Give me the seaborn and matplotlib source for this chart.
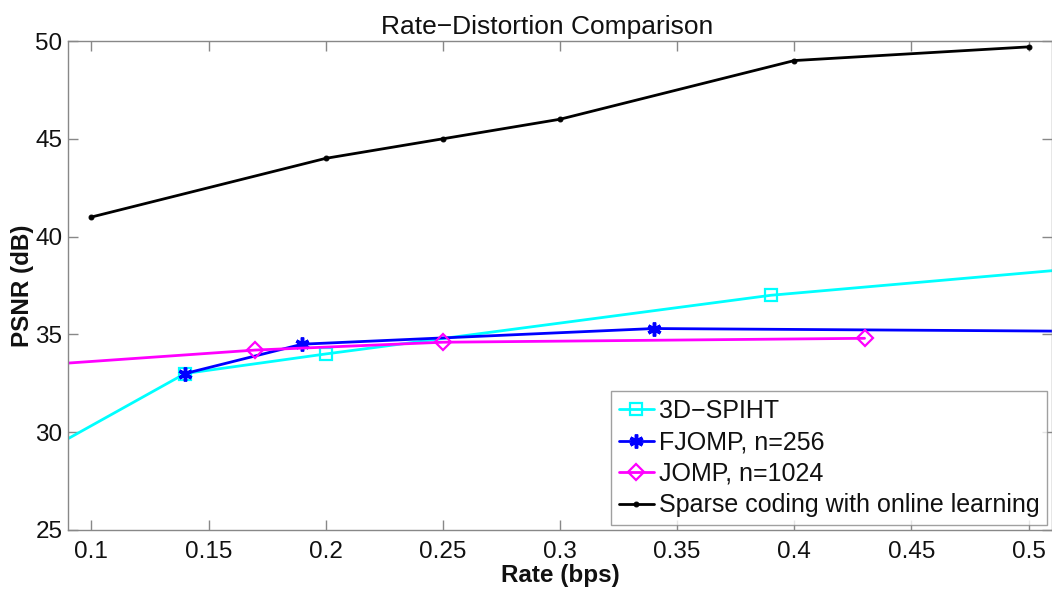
import matplotlib
matplotlib.use("Agg")
import matplotlib.pyplot as plt
import seaborn as sns
import pandas as pd

sns.set_theme(style="white")
plt.rcParams['font.family'] = ['Liberation Sans', 'DejaVu Sans']

# Data
spiht_x = [0.08, 0.14, 0.20, 0.39, 0.60]
spiht_y = [29.0, 33.0, 34.0, 37.0, 39.2]
fjomp_x = [0.14, 0.19, 0.34, 0.60]
fjomp_y = [33.0, 34.5, 35.3, 35.1]
jomp_x = [0.05, 0.17, 0.25, 0.43]
jomp_y = [33.2, 34.2, 34.6, 34.8]
sparse_x = [0.10, 0.20, 0.25, 0.30, 0.40, 0.50]
sparse_y = [41.0, 44.0, 45.0, 46.0, 49.0, 49.7]
labels = ["3D\u2212SPIHT", "FJOMP, n=256", "JOMP, n=1024", "Sparse coding with online learning"]
xticks = [0.1, 0.15, 0.2, 0.25, 0.3, 0.35, 0.4, 0.45, 0.5]
yticks = [25, 30, 35, 40, 45, 50]

fig = plt.figure(figsize=(10.52, 5.90), dpi=100)
ax = fig.add_axes([0.0646, 0.1017, 0.9354, 0.8288])

series = [
    (spiht_x, spiht_y, labels[0], "#00FFFF", "s", dict(markersize=8, markerfacecolor="none", markeredgewidth=1.6)),
    (fjomp_x, fjomp_y, labels[1], "#0000FF", (6, 2, 0), dict(markersize=10, markeredgewidth=2.5)),
    (jomp_x, jomp_y, labels[2], "#FF00FF", "D", dict(markersize=8, markerfacecolor="none", markeredgewidth=1.6)),
    (sparse_x, sparse_y, labels[3], "#000000", "o", dict(markersize=3.5)),
]
for xs, ys, lab, col, mk, kw in series:
    df = pd.DataFrame({"x": xs, "y": ys})
    sns.lineplot(data=df, x="x", y="y", ax=ax, color=col, marker=mk, label=lab,
                 sort=False, linewidth=2, markeredgecolor=col, **kw)

ax.set_xlim(0.09, 0.51)
ax.set_ylim(25, 50)
ax.set_xticks(xticks)
ax.set_xticklabels([f"{t:g}" for t in xticks])
ax.set_yticks(yticks)
ax.tick_params(direction="in", length=7.5, width=1, color="#888888", labelsize=17.5,
               labelcolor="#111111", top=True, right=True, bottom=True, left=True)
ax.tick_params(axis="x", pad=8)
ax.tick_params(axis="y", pad=4)
for s in ax.spines.values():
    s.set_color("#888888")
    s.set_linewidth(1)
    s.set_visible(True)

ax.set_title("Rate\u2212Distortion Comparison", fontsize=19, pad=5, color="#111111", x=0.487)
ax.set_xlabel("Rate (bps)", fontsize=17.5, fontweight="bold", labelpad=1, color="#111111")
ax.set_ylabel("PSNR (dB)", fontsize=17.5, fontweight="bold", labelpad=1, color="#111111")

leg = ax.legend(loc="lower right", fontsize=18, frameon=True, fancybox=False,
                borderpad=0.3, labelspacing=0.3, handlelength=1.4, handletextpad=0.2,
                borderaxespad=0.2)
leg.get_frame().set_edgecolor("#888888")
leg.get_frame().set_linewidth(1)
for t in leg.get_texts():
    t.set_color("#111111")

fig.savefig("out.png", dpi=100)
